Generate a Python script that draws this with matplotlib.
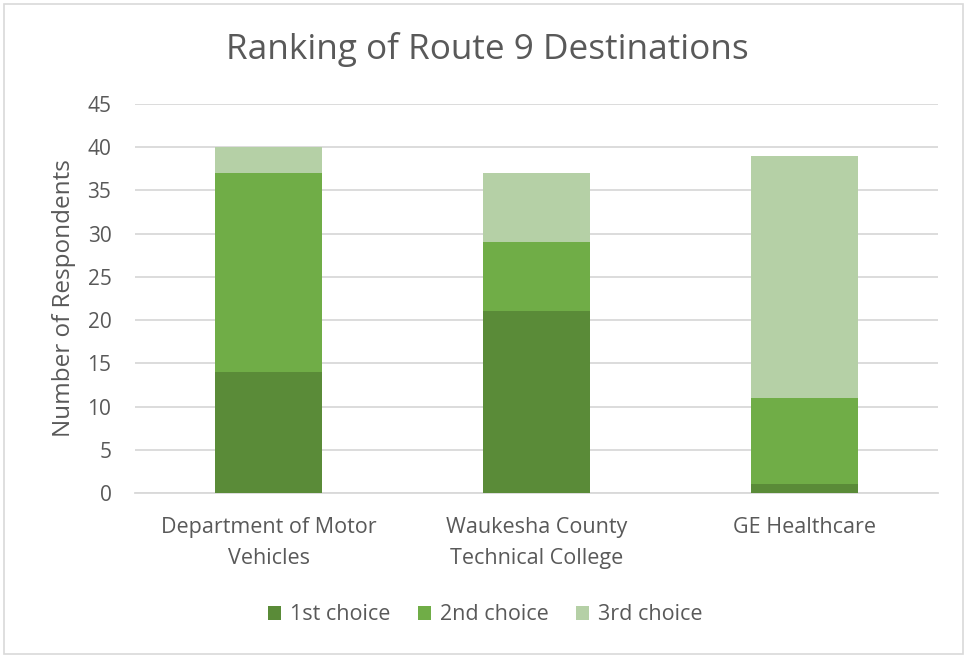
import numpy as np
import matplotlib
matplotlib.use("Agg")
import matplotlib.pyplot as plt
from matplotlib.patches import Rectangle

categories = ["Department of Motor\nVehicles", "Waukesha County\nTechnical College", "GE Healthcare"]
first_choice = [14, 21, 1]
second_choice = [23, 8, 10]
third_choice = [3, 8, 28]
series_names = ["1st choice", "2nd choice", "3rd choice"]
colors_list = ["#5A8B38", "#70AD47", "#B5D0A6"]

plt.rcParams['font.family'] = ['Open Sans', 'DejaVu Sans']
txt = "#595959"

fig = plt.figure(figsize=(9.67, 6.57), dpi=100)
fig.patches.append(Rectangle((0.004, 0.004), 0.992, 0.99, transform=fig.transFigure,
                             fill=False, edgecolor="#D9D9D9", linewidth=1.2))
ax = fig.add_axes([0.1396, 0.2496, 0.8304, 0.5921])

x = np.arange(len(categories))
bottom = np.zeros(len(categories))
for vals, name, c in zip([first_choice, second_choice, third_choice], series_names, colors_list):
    ax.bar(x, vals, width=0.4, bottom=bottom, color=c, label=name, zorder=3)
    bottom += np.array(vals)

ax.set_xlim(-0.5, 2.5)
ax.set_ylim(0, 45)
ax.set_yticks(np.arange(0, 46, 5))
ax.grid(axis="y", color="#D9D9D9", linewidth=1.3, zorder=0)
for s in ["top", "right", "left"]:
    ax.spines[s].set_visible(False)
ax.spines["bottom"].set_color("#D9D9D9")
ax.spines["bottom"].set_linewidth(1.3)
ax.tick_params(length=0, labelsize=15, colors=txt)
ax.tick_params(axis="y", pad=17)
ax.tick_params(axis="x", pad=17, labelsize=15.5)
ax.set_xticks(x)
ax.set_xticklabels(categories, linespacing=1.65)
ax.set_ylabel("Number of Respondents", fontsize=17.5, color=txt, labelpad=8)

fig.text(0.504, 0.925, "Ranking of Route 9 Destinations", ha="center", va="center",
         fontsize=25.3, color=txt)
fig.legend(loc="center", bbox_to_anchor=(0.502, 0.064), ncol=3, frameon=False,
           fontsize=15.5, labelcolor=txt, handlelength=0.6, handleheight=0.6,
           handletextpad=0.4, columnspacing=1.3)

fig.savefig("out.png", dpi=100)
